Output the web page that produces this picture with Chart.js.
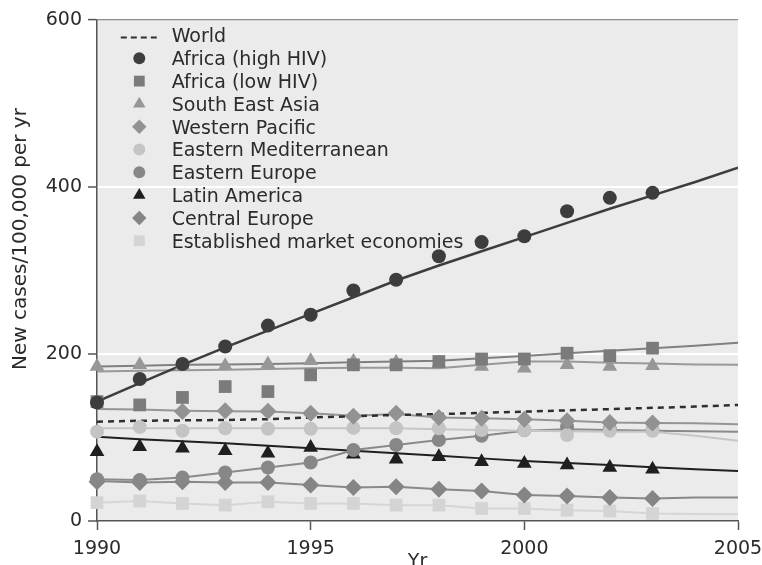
<!DOCTYPE html>
<html>
<head>
<meta charset="utf-8">
<script src="https://cdn.jsdelivr.net/npm/chart.js@4.4.1/dist/chart.umd.min.js"></script>
<style>
html,body{margin:0;padding:0;background:#ffffff;}
#c{display:block;}
</style>
</head>
<body>
<canvas id="c" width="762" height="565"></canvas>
<script>
// ---------- data ----------
const markerYears = [1990,1991,1992,1993,1994,1995,1996,1997,1998,1999,2000,2001,2002,2003];
const lineYears   = [1990,1991,1992,1993,1994,1995,1996,1997,1998,1999,2000,2001,2002,2003,2004,2005];
const xTickValues = [1990,1995,2000,2005];
const yTickValues = [0,200,400,600];
const xAxisTitle = 'Yr';
const yAxisTitle = 'New cases/100,000 per yr';

const worldTrend = [119,120,120.5,121,122,124,125.5,127,128,129.5,131,132.5,134,135.5,137,139];

const africaHighHIV      = [142,170,188,209,234,247,276,289,317,334,341,371,387,393];
const africaHighHIVTrend = [143,165,187,208,228,248,268,288,306,323,340,357,374,390,406,423];

const africaLowHIV       = [143,139,148,161,155,175,187,187,191,194,194,201,198,207];
const africaLowHIVTrend  = [185,186,187,187.5,188,189,190,191,192,195,197.5,201,204,207,210,213.5];

const southEastAsia      = [185,187,187,186,188,192,191,190,189,185,183,187,185,186];
const southEastAsiaTrend = [179,180,180.5,181,182,183,183.5,183.5,183,187,191,191,189.5,188.5,187.5,187];

const westernPacific      = [null,null,131,132,131.5,129,125.5,129,124,123,122,120,118,117.5];
const westernPacificTrend = [134,133.5,132,131.5,131,129,126,128,124,123,122,120,118,117.5,117,116];

const easternMediterranean      = [107,112.5,108,111,110.5,110.5,111.5,111,111,109,109,103,108,108];
const easternMediterraneanTrend = [111,111,111,111,111,111,111,111,110,109,108,107.5,107,107,102,96];

const easternEurope      = [50,49,52,58,64,70,85,91,97,102,109,113,110,109];
const easternEuropeTrend = [50,49,52,58,64,70,85,91,97,102,108,110,109,108,107.5,107];

const latinAmerica      = [83,89,87,84,81,88,80,74,77,71,69,67,64,62];
const latinAmericaTrend = [101,98,95.5,93,90,87,84,81,78,75,72,69.5,67,64.5,62,60];

const centralEurope      = [47,46,47,46,46,43,40,41,38,36,31,30,28,27];
const centralEuropeTrend = [48,46,47,46,46,43,40,41,38,36,31,30,28,27,28,28];

const establishedMarket      = [22,24,21,19,23,21,21,19,19,15,15,13,12,9];
const establishedMarketTrend = [22,24,21,19,23,21,21,19,19,15,15,13,12,9,8.5,8];

const seriesLabels = ['Africa (high HIV)','Africa (low HIV)','South East Asia','Western Pacific',
  'Eastern Mediterranean','Eastern Europe','Latin America','Central Europe','Established market economies'];
const seriesMarks = [africaHighHIV, africaLowHIV, southEastAsia, westernPacific,
  easternMediterranean, easternEurope, latinAmerica, centralEurope, establishedMarket];
const seriesTrends = [africaHighHIVTrend, africaLowHIVTrend, southEastAsiaTrend, westernPacificTrend,
  easternMediterraneanTrend, easternEuropeTrend, latinAmericaTrend, centralEuropeTrend, establishedMarketTrend];
const worldLabel = 'World';

// ---------- styles ----------
const FONT = 'DejaVu Sans';
const TEXT = '#2b2b2b';
const seriesStyles = [
  {marker:'#3d3d3d', line:'#3d3d3d', lw:2.5, shape:'circle',   r:7},
  {marker:'#7b7b7b', line:'#808080', lw:2,   shape:'rect',     r:9},
  {marker:'#979797', line:'#999999', lw:2,   shape:'triangle', r:8.5},
  {marker:'#929292', line:'#959595', lw:2,   shape:'rectRot',  r:8.5},
  {marker:'#c4c4c4', line:'#c6c6c6', lw:2,   shape:'circle',   r:7},
  {marker:'#878787', line:'#8a8a8a', lw:2,   shape:'circle',   r:7},
  {marker:'#1f1f1f', line:'#1f1f1f', lw:2,   shape:'triangle', r:8.5},
  {marker:'#858585', line:'#888888', lw:2,   shape:'rectRot',  r:8.5},
  {marker:'#d4d4d4', line:'#d6d6d6', lw:2,   shape:'rect',     r:9}
];

const toXY = (years, vals) => vals.map((v, i) => ({x: years[i], y: v}));

const markerSets = seriesLabels.map((lab, i) => ({
  label: lab,
  data: toXY(markerYears, seriesMarks[i]),
  showLine: false,
  pointStyle: seriesStyles[i].shape,
  pointRadius: seriesStyles[i].r,
  pointBackgroundColor: seriesStyles[i].marker,
  pointBorderWidth: 0,
  borderColor: seriesStyles[i].marker,
  clip: false
}));

const worldSet = {
  label: worldLabel,
  data: toXY(lineYears, worldTrend),
  borderColor: '#2e2e2e',
  borderWidth: 2.5,
  borderDash: [6, 5],
  pointRadius: 0,
  fill: false,
  tension: 0
};

const trendSets = seriesLabels.map((lab, i) => ({
  label: lab + ' trend',
  data: toXY(lineYears, seriesTrends[i]),
  borderColor: seriesStyles[i].line,
  borderWidth: seriesStyles[i].lw,
  pointRadius: 0,
  fill: false,
  tension: 0
}));

// ---------- plugins ----------
const plotBg = {
  id: 'plotBg',
  beforeDraw(chart) {
    const {ctx, chartArea: a} = chart;
    ctx.save();
    ctx.fillStyle = '#ebebeb';
    ctx.fillRect(a.left, a.top, a.right - a.left, a.bottom - a.top);
    ctx.restore();
  }
};

const yTitle = {
  id: 'yTitle',
  afterDraw(chart) {
    const {ctx, chartArea: a} = chart;
    ctx.save();
    ctx.translate(21, a.top + 219);
    ctx.rotate(-Math.PI / 2);
    ctx.font = '20px "' + FONT + '"';
    ctx.fillStyle = TEXT;
    ctx.textAlign = 'center';
    ctx.textBaseline = 'middle';
    ctx.fillText(yAxisTitle, 0, 0);
    ctx.restore();
  }
};

function drawMarker(ctx, shape, r, x, y) {
  ctx.beginPath();
  if (shape === 'circle') {
    ctx.arc(x, y, r, 0, Math.PI * 2);
  } else if (shape === 'rect') {
    const s = r * Math.SQRT1_2;
    ctx.rect(x - s, y - s, 2 * s, 2 * s);
  } else if (shape === 'rectRot') {
    ctx.moveTo(x, y - r); ctx.lineTo(x + r, y); ctx.lineTo(x, y + r); ctx.lineTo(x - r, y); ctx.closePath();
  } else if (shape === 'triangle') {
    const a = 2 * Math.PI / 3;
    ctx.moveTo(x, y - r);
    ctx.lineTo(x + Math.sin(a) * r, y - Math.cos(a) * r);
    ctx.lineTo(x + Math.sin(2 * a) * r, y - Math.cos(2 * a) * r);
    ctx.closePath();
  }
  ctx.fill();
}

const insetLegend = {
  id: 'insetLegend',
  afterDraw(chart) {
    const {ctx, chartArea: a} = chart;
    const rowH = 22.8, firstRow = a.top + 17.5;
    const mx = a.left + 42.3, tx = a.left + 74.7;
    ctx.save();
    ctx.font = '19px "' + FONT + '"';
    ctx.textBaseline = 'middle';
    ctx.textAlign = 'left';
    ctx.strokeStyle = '#2e2e2e';
    ctx.lineWidth = 2;
    ctx.setLineDash([6, 4]);
    ctx.beginPath();
    ctx.moveTo(mx - 18.5, firstRow);
    ctx.lineTo(mx + 18.5, firstRow);
    ctx.stroke();
    ctx.setLineDash([]);
    ctx.fillStyle = TEXT;
    ctx.fillText(worldLabel, tx, firstRow);
    seriesLabels.forEach((lab, i) => {
      const cy = firstRow + (i + 1) * rowH;
      const st = seriesStyles[i];
      ctx.fillStyle = st.marker;
      drawMarker(ctx, st.shape, st.r * 0.85, mx, cy - 2);
      ctx.fillStyle = TEXT;
      ctx.fillText(lab, tx, cy);
    });
    ctx.restore();
  }
};

// ---------- chart ----------
new Chart(document.getElementById('c'), {
  type: 'line',
  data: { datasets: [...markerSets, worldSet, ...trendSets] },
  plugins: [plotBg, insetLegend, yTitle],
  options: {
    responsive: false,
    animation: false,
    events: [],
    layout: { padding: { left: 0, right: 24, top: 20, bottom: 0 } },
    plugins: { legend: { display: false }, tooltip: { enabled: false }, title: { display: false } },
    scales: {
      x: {
        type: 'linear',
        min: xTickValues[0],
        max: xTickValues[xTickValues.length - 1],
        afterBuildTicks: s => { s.ticks = xTickValues.map(v => ({value: v})); },
        afterFit: s => { s.height = 44; s.paddingLeft = 0; s.paddingRight = 0; },
        grid: { drawOnChartArea: false, drawTicks: true, tickLength: 9, tickColor: '#555555', tickWidth: 1.5 },
        border: { display: true, color: '#555555', width: 1.5 },
        ticks: { callback: v => String(v), font: { family: FONT, size: 19 }, color: TEXT, padding: 8, maxRotation: 0, autoSkip: false },
        title: { display: true, text: xAxisTitle, font: { family: FONT, size: 19, lineHeight: 0.3 }, color: TEXT, padding: { top: 0, bottom: 0 } }
      },
      y: {
        type: 'linear',
        min: yTickValues[0],
        max: yTickValues[yTickValues.length - 1],
        afterBuildTicks: s => { s.ticks = yTickValues.map(v => ({value: v})); },
        afterFit: s => { s.width = 97; s.paddingTop = 0; s.paddingBottom = 0; },
        grid: {
          color: c => (c.tick && c.tick.value === 600) ? '#8c8c8c' : ((c.tick && c.tick.value === 0) ? 'rgba(0,0,0,0)' : '#ffffff'),
          lineWidth: c => (c.tick && c.tick.value === 600) ? 1.2 : 2,
          tickColor: '#555555', tickLength: 9, tickWidth: 1.5
        },
        border: { display: true, color: '#555555', width: 1.5 },
        ticks: { callback: v => String(v), font: { family: FONT, size: 19 }, color: TEXT, padding: 6 },
        title: { display: false, text: yAxisTitle }
      }
    }
  }
});
</script>
</body>
</html>
